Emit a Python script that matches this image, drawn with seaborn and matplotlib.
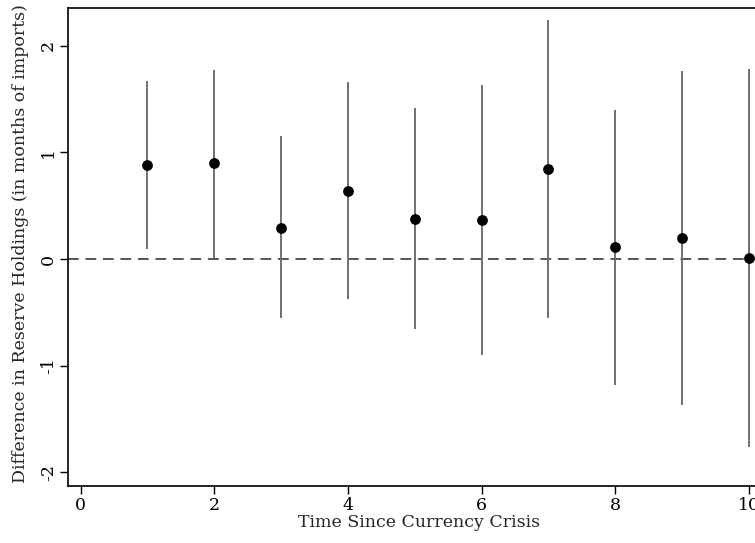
import matplotlib
matplotlib.use("Agg")
import matplotlib.pyplot as plt
import seaborn as sns
import pandas as pd

# Data
periods = [1, 2, 3, 4, 5, 6, 7, 8, 9, 10]
estimates = [0.882, 0.898, 0.294, 0.641, 0.378, 0.366, 0.841, 0.11, 0.197, 0.012]
ci_upper = [1.67, 1.773, 1.151, 1.663, 1.417, 1.632, 2.239, 1.40, 1.76, 1.78]
ci_lower = [0.094, 0.012, -0.556, -0.378, -0.66, -0.90, -0.556, -1.18, -1.37, -1.76]
x_ticks = [0, 2, 4, 6, 8, 10]
y_ticks = [-2, -1, 0, 1, 2]

df = pd.DataFrame({"t": periods, "est": estimates, "lo": ci_lower, "hi": ci_upper})

sns.set_theme(style="white")
plt.rcParams["font.family"] = ["DejaVu Serif"]
plt.rcParams["font.size"] = 12

fig = plt.figure(figsize=(7.55, 5.43), dpi=100)
ax = fig.add_axes([0.090, 0.1055, 0.9298, 0.880])

ax.vlines(df["t"], df["lo"], df["hi"], color="#707070", linewidth=1.4, zorder=2)
ax.axhline(0, color="#555555", linewidth=1.4, linestyle=(0, (5.5, 3.5)), zorder=1)
sns.scatterplot(data=df, x="t", y="est", ax=ax, color="black", s=60,
                edgecolor="black", linewidth=0, zorder=3, legend=False)

ax.set_xlim(-0.19, 10.314)
ax.set_ylim(-2.127, 2.357)
ax.set_xticks(x_ticks)
ax.set_xticklabels([str(v) for v in x_ticks], fontsize=12.5)
ax.set_yticks(y_ticks)
ax.set_yticklabels([str(v) for v in y_ticks], fontsize=12.5, rotation=90, va="center")

for side in ["left", "bottom", "top", "right"]:
    ax.spines[side].set_color("black")
    ax.spines[side].set_linewidth(1.2)

ax.tick_params(axis="both", direction="out", length=6, width=1.0, color="black",
               bottom=True, left=True, pad=2, labelcolor="black")

ax.set_xlabel("Time Since Currency Crisis", fontsize=12.5, labelpad=0)
ax.set_ylabel("Difference in Reserve Holdings (in months of imports)", fontsize=12.5)
ax.yaxis.set_label_coords(-0.056, 0.507)

fig.savefig("out.png", dpi=100)
